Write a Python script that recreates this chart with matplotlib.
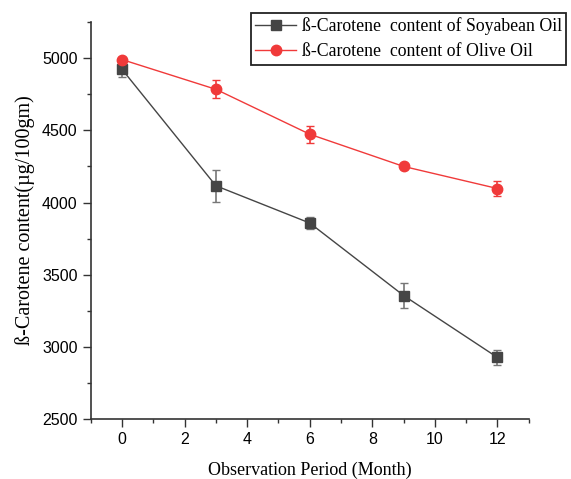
import numpy as np
import matplotlib.pyplot as plt

months = [0, 3, 6, 9, 12]
soy = [4922, 4116, 3858, 3356, 2927]
soy_err = [55, 110, 40, 88, 55]
olive = [4990, 4784, 4473, 4250, 4097]
olive_err = [15, 63, 60, 15, 52]

serif = 'Liberation Serif'
sans = 'Liberation Sans'

fig = plt.figure(figsize=(5.71, 4.79), dpi=100)
ax = fig.add_axes([0.159, 0.125, 0.767, 0.829])

c1 = ax.errorbar(months, soy, yerr=soy_err, color='#454545', marker='s', markersize=7,
                 linewidth=1, capsize=3, ecolor='#777777', elinewidth=1.2,
                 label='ß-Carotene  content of Soyabean Oil')
c2 = ax.errorbar(months, olive, yerr=olive_err, color='#f03a3a', marker='o', markersize=7.5,
                 linewidth=1, capsize=3, ecolor='#f03a3a', elinewidth=1.2,
                 label='ß-Carotene  content of Olive Oil')

ax.set_xlim(-1, 13)
ax.set_ylim(2500, 5250)
ax.set_xticks(range(0, 13, 2))
ax.set_xticks(range(-1, 14, 2), minor=True)
ax.set_yticks(range(2500, 5001, 500))
ax.set_yticks(range(2750, 5251, 500), minor=True)

for s in ['top', 'right']:
    ax.spines[s].set_visible(False)
for s in ['left', 'bottom']:
    ax.spines[s].set_color('#333333')
    ax.spines[s].set_linewidth(1.2)

ax.tick_params(which='major', direction='out', length=6, width=1, color='#333333',
               labelsize=11.5)
ax.tick_params(which='minor', direction='out', length=3, width=1, color='#333333')
for lab in ax.get_xticklabels() + ax.get_yticklabels():
    lab.set_fontfamily(sans)

ax.set_xlabel('Observation Period (Month)', fontfamily=serif, fontsize=13, labelpad=10)
ax.set_ylabel('ß-Carotene content(µg/100gm)', fontfamily=serif, fontsize=14.5, labelpad=5)

leg = ax.legend(handles=[c1[0], c2[0]], labels=[c1.get_label(), c2.get_label()],
                loc='upper left', bbox_to_anchor=(251 / 571, 1 - 13 / 479),
                bbox_transform=fig.transFigure, prop={'family': serif, 'size': 12.8},
                fancybox=False, edgecolor='#222222', framealpha=1, borderaxespad=0,
                handlelength=2.3, handletextpad=0.3, borderpad=0.25, labelspacing=0.45)
leg.get_frame().set_linewidth(1.3)

fig.savefig('out.png', dpi=100)
